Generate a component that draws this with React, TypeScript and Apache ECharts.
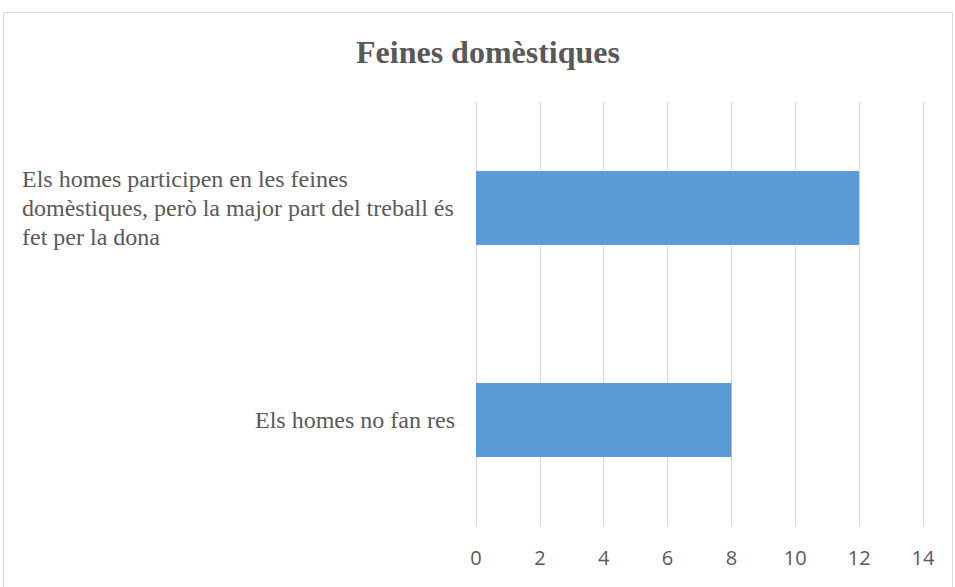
import React, { useEffect, useRef } from "react";
import * as echarts from "echarts";

const title = "Feines domèstiques";
const categories = [
  "Els homes participen en les feines domèstiques, però la major part del treball és fet per la dona",
  "Els homes no fan res",
];
const labelLines: Record<string, string[]> = {
  [categories[0]]: [
    "Els homes participen en les feines",
    "domèstiques, però la major part del treball és",
    "fet per la dona",
  ],
};
const values = [12, 8];
const xTicks = { min: 0, max: 14, interval: 2 };

export default function App() {
  const ref = useRef<HTMLDivElement>(null);
  useEffect(() => {
    const chart = echarts.init(ref.current!, null, { renderer: "svg" });
    chart.setOption({
      animation: false,
      backgroundColor: "#ffffff",
      title: {
        text: title,
        left: 351,
        top: 31,
        textStyle: {
          fontFamily: "Liberation Serif",
          fontWeight: "bold",
          fontSize: 32,
          color: "#595959",
        },
      },
      graphic: [
        {
          type: "rect",
          shape: { x: 3.5, y: 12.5, width: 949, height: 600 },
          style: { fill: "none", stroke: "#d9d9d9", lineWidth: 1 },
          silent: true,
        },
      ],
      grid: { left: 476, right: 32, top: 102, bottom: 61, containLabel: false },
      xAxis: {
        type: "value",
        min: xTicks.min,
        max: xTicks.max,
        interval: xTicks.interval,
        axisLine: { show: false },
        axisTick: { show: false },
        splitLine: { show: true, lineStyle: { color: "#d9d9d9", width: 1 } },
        axisLabel: {
          margin: 21,
          fontFamily: "Open Sans",
          fontSize: 20,
          color: "#595959",
        },
      },
      yAxis: {
        type: "category",
        inverse: true,
        data: categories,
        axisLine: { show: true, lineStyle: { color: "#d9d9d9", width: 1 } },
        axisTick: { show: false },
        axisLabel: {
          margin: 21,
          fontFamily: "Liberation Serif",
          fontSize: 24,
          color: "#595959",
          lineHeight: 29,
          formatter: (v: string) => {
            const lines = labelLines[v];
            if (!lines) return v;
            return lines.map((l) => `{a|${l}}`).join("\n");
          },
          rich: {
            a: {
              width: 433,
              align: "left",
              fontFamily: "Liberation Serif",
              fontSize: 24,
              color: "#595959",
              lineHeight: 29,
            },
          },
        },
      },
      series: [
        {
          type: "bar",
          data: values,
          barWidth: "35%",
          itemStyle: { color: "#5b9bd5" },
        },
      ],
    });
    return () => chart.dispose();
  }, []);
  return (
    <div
      ref={ref}
      style={{ position: "fixed", left: 0, top: 0, width: 955, height: 587 }}
    />
  );
}
